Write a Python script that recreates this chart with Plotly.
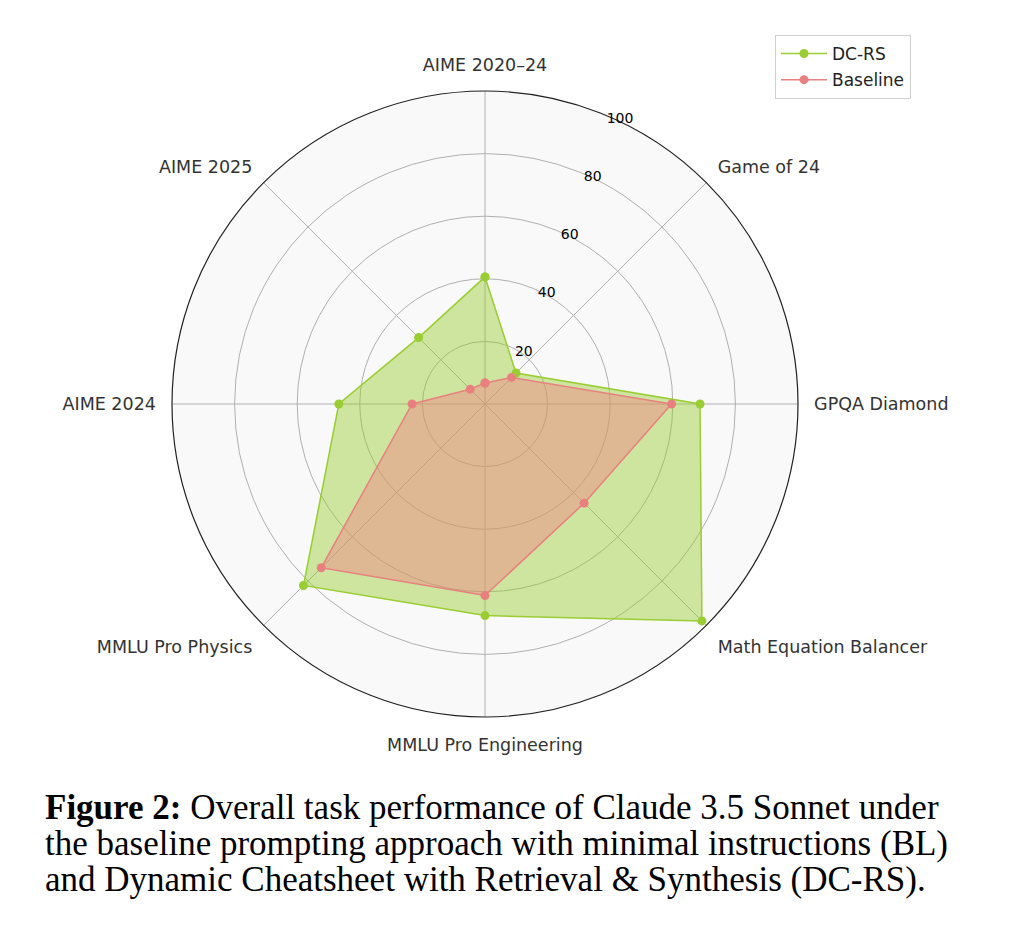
import plotly.graph_objects as go

# task names, clockwise from the top
categories = [
    "AIME 2020–24",
    "Game of 24",
    "GPQA Diamond",
    "Math Equation Balancer",
    "MMLU Pro Engineering",
    "MMLU Pro Physics",
    "AIME 2024",
    "AIME 2025",
]
dc_rs = [40.6, 14.0, 68.7, 98.0, 67.6, 82.0, 46.7, 30.0]
baseline = [6.7, 12.0, 59.6, 44.8, 61.2, 74.0, 23.3, 6.7]
radial_ticks = [20, 40, 60, 80, 100]

caption_lines = [
    "<b>Figure 2:</b> Overall task performance of Claude 3.5 Sonnet under",
    "the baseline prompting approach with minimal instructions (BL)",
    "and Dynamic Cheatsheet with Retrieval &amp; Synthesis (DC-RS).",
]

W, H = 1018, 944
OFF = 8  # page body margin


def px_x(x):
    return (x - OFF) / W


def px_y(y):
    return 1 - (y - OFF) / H


fig = go.Figure()

# close the polygons by repeating the first point
theta = categories + categories[:1]
series = [
    ("DC-RS", dc_rs, "#9acd32", "rgba(154,205,50,0.45)"),
    ("Baseline", baseline, "#e88080", "rgba(240,128,128,0.45)"),
]
for name, vals, col, fcol in series:
    r = vals + vals[:1]
    fig.add_trace(go.Scatterpolar(
        r=r, theta=theta, mode="none", fill="toself", fillcolor=fcol,
        showlegend=False, legendgroup=name, hoverinfo="skip",
    ))
    fig.add_trace(go.Scatterpolar(
        r=r, theta=theta, name=name, legendgroup=name,
        mode="lines+markers",
        line=dict(color=col, width=1.5),
        marker=dict(color=col, size=9),
    ))

fig.update_layout(
    width=W, height=H,
    margin=dict(l=0, r=0, t=0, b=0),
    paper_bgcolor="white",
    font=dict(family="DejaVu Sans", color="#222"),
    polar=dict(
        domain=dict(x=[px_x(172), px_x(798)], y=[px_y(717), px_y(91)]),
        bgcolor="#f9f9f9",
        radialaxis=dict(
            range=[0, 100], tickvals=radial_ticks, angle=68.5, tickangle=68.5,
            showline=False, ticks="", gridcolor="#b0b0b0", gridwidth=1.1,
            tickfont=dict(size=14, color="black"),
        ),
        angularaxis=dict(
            rotation=90, direction="clockwise",
            showline=True, linecolor="#222", linewidth=1.2,
            gridcolor="#b0b0b0", gridwidth=1.1,
            ticks="outside", ticklen=12, tickcolor="rgba(0,0,0,0)",
            tickfont=dict(size=17.5, color="#333"),
        ),
    ),
    legend=dict(
        x=px_x(775), y=px_y(35), xanchor="left", yanchor="top",
        bordercolor="#d0d0d0", borderwidth=1, bgcolor="white",
        font=dict(size=17, color="#222"), tracegroupgap=1, itemwidth=46,
    ),
)

for i, line in enumerate(caption_lines):
    baseline_y = 819 + 36 * i
    fig.add_annotation(
        x=px_x(43), y=px_y(baseline_y + 10), xref="paper", yref="paper",
        xanchor="left", yanchor="bottom", showarrow=False,
        text=line, font=dict(family="Liberation Serif", size=35, color="black"),
    )

fig.write_html("out.html")
